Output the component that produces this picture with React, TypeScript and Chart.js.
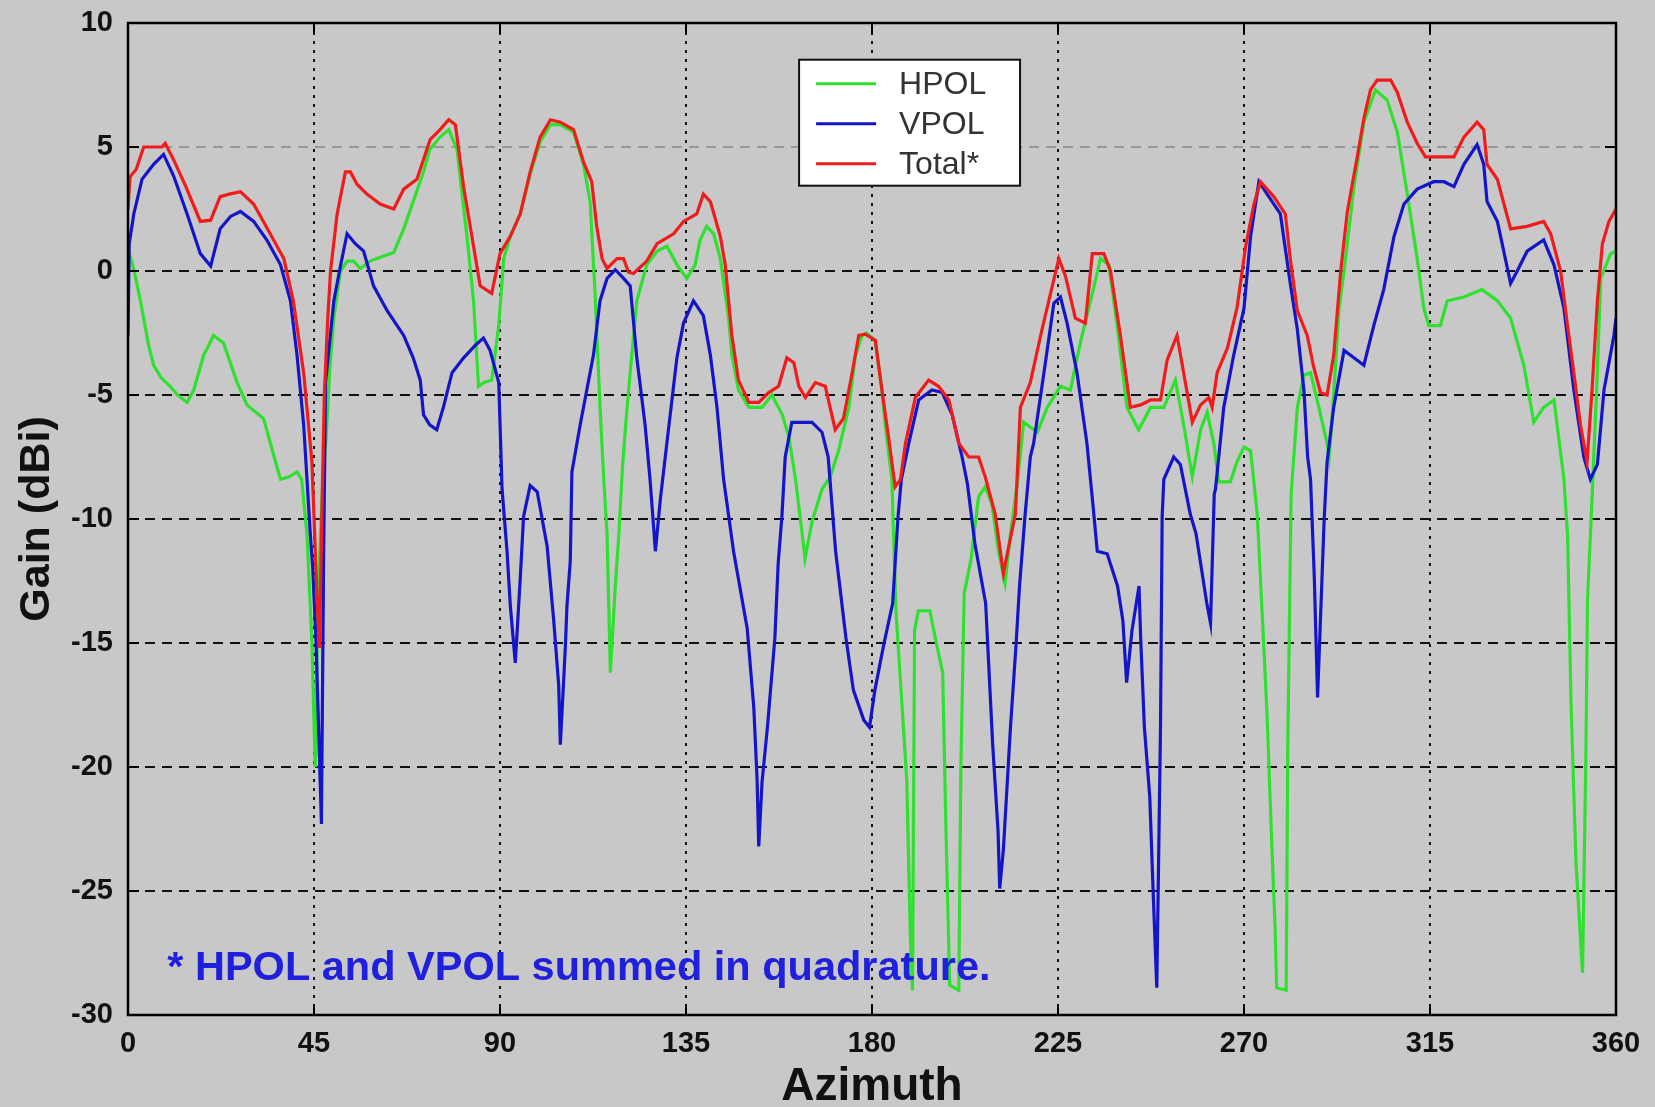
import React, { useEffect, useRef } from "react";
import { Chart, registerables } from "chart.js";

Chart.register(...registerables);

const azimuthTicks = [0, 45, 90, 135, 180, 225, 270, 315, 360];
const gainTicks = [-30, -25, -20, -15, -10, -5, 0, 5, 10];

const seriesLabels = ["HPOL", "VPOL", "Total*"];
const seriesColors = ["#2fe02f", "#1515c8", "#ee1c1c"];
const footnote = "* HPOL and VPOL summed in quadrature.";

const hpolAz = [0,1.5,3,5,6.2,8,10.2,12,14.3,15.9,18.3,20.7,23.1,26.4,28.8,32.8,35.2,36.9,39,40.9,42,43.3,44.5,45.3,46,47,48,48.8,49.8,51.4,53,54.6,56.2,58.6,61,64.3,66.7,69,71.5,73,75.5,77.6,79.6,82,83.6,84.8,86,88,89.7,90.9,92.5,94.9,97.3,99.7,102.2,104.6,107.8,110.2,111.8,113,114.2,115.1,115.9,116.7,117.9,118.8,119.6,120.5,121.5,123.1,125.5,128,130.4,132.8,135.2,137.2,138.4,140,141.7,143.3,145.3,146.1,147.7,150.2,153.4,155.8,158.3,159.9,161.5,163.1,163.8,165.5,167.9,169.9,171.9,174.4,176,177.6,178.6,180.8,182.4,183.2,184.8,185.8,187.6,188.4,189.3,189.8,190.3,191.2,194,195.3,197.1,197.9,198.8,201,201.5,202.3,204,204.9,205.8,207.4,209,210.6,212.2,213.5,215.2,216.7,220,222.4,225.6,228,230.4,233.3,235.3,237.3,239.3,241.7,244.5,247.4,250.6,253.4,255.4,257.5,259.5,261.1,262.7,263.9,266.7,268.3,270,271.6,273.2,274.9,275.7,276.6,277.5,277.9,280.2,280.6,281.4,282.9,284.5,286.1,287.7,290.1,290.6,291.5,293,294.2,296.6,299,301.8,304.6,307.1,309.5,311.9,313.5,314.7,317.5,319.2,323.2,327.6,331.3,334.5,337.7,340.1,342.5,345,347.4,348.3,349.1,350.3,351.9,352.7,353.1,354.4,355.5,356.3,358.7,360];
const hpolGain = [0.9,0,-1.2,-3,-3.8,-4.3,-4.65,-5.0,-5.3,-4.8,-3.4,-2.6,-2.9,-4.5,-5.4,-5.95,-7.4,-8.4,-8.3,-8.1,-8.4,-10.6,-15,-20,-13,-9,-6.5,-4,-1.9,0,0.4,0.4,0.1,0.4,0.55,0.75,1.7,2.8,4.0,4.9,5.4,5.7,4.9,1.4,-1.2,-4.65,-4.5,-4.4,-2.2,0.5,1.4,2.3,3.9,5.2,5.9,5.9,5.6,4.3,2.8,-0.9,-5.5,-8.4,-10.6,-16.2,-12.7,-10.5,-8.0,-6.0,-4.1,-1.2,0.25,0.8,1.0,0.25,-0.3,0.25,1.25,1.8,1.5,0.5,-1.9,-3.4,-4.8,-5.5,-5.5,-5.0,-5.8,-6.7,-8.4,-10.6,-11.6,-10.1,-8.8,-8.3,-7.25,-5.5,-3.4,-2.6,-2.5,-2.8,-4.8,-6.2,-8.4,-13.7,-18.4,-20.5,-26.9,-29,-14.5,-13.7,-13.7,-14.8,-16.2,-22.6,-28.8,-29,-20,-13,-11.6,-10.3,-9.1,-8.7,-9.4,-11.3,-12.6,-10.6,-8.5,-6.1,-6.5,-5.5,-4.65,-4.8,-2.9,-0.9,0.5,0.25,-2.2,-5.5,-6.4,-5.5,-5.5,-4.4,-6.2,-8.3,-6.4,-5.7,-6.95,-8.5,-8.5,-7.7,-7.1,-7.25,-9.8,-15.5,-18.4,-22.6,-26.4,-28.9,-29,-19,-9,-5.5,-4.2,-4.1,-5.2,-6.95,-7.5,-5.5,-1.5,0,3.4,6.0,7.3,6.9,5.6,3.1,0.5,-1.5,-2.2,-2.2,-1.2,-1.05,-0.75,-1.2,-1.9,-3.8,-6.1,-5.5,-5.2,-8.4,-10.7,-17.3,-23.8,-28.3,-19.7,-13.3,-8.4,-4,-0.3,0.7,0.8];

const vpolAz = [0,0.3,1.4,3.4,6.2,8.6,11,14.3,17.5,20,22.3,24.8,27.2,30.4,33.6,36.9,39.3,40.9,42.5,44.1,44.7,45.5,46.8,47.3,47.8,49.8,51.4,53,55,57,59.4,62.7,66.7,69,70.7,71.5,73,74.7,76.3,78.4,81.2,84,86,87.6,89.7,90.5,91.7,92.5,93.7,94.9,95.7,97.3,99,101.4,103,104.2,104.6,105.8,106.2,107,107.4,109.4,111,112.6,114.2,115.9,117.9,119.9,121.5,123.1,125.1,126.3,127.6,128.8,130.4,132.8,134.4,136.8,139.2,140.9,142.5,144.1,146.5,149.8,151.4,152.2,152.6,153.4,154.7,156.5,157.3,158.2,159,160.6,165.5,167.9,169.4,171.2,173.7,175.5,178,179.4,180.7,182.8,185,186.3,187.1,188.9,191.3,194.5,197,199.4,201.8,203.1,204.9,207.5,209.2,210.5,210.9,211.8,213.5,214.8,215.7,217,218.3,219.1,221.6,224,225.6,227.2,229.6,232,233.5,234.5,236.9,239.4,240.7,241.6,242.9,244.6,245,245.9,247.2,248.1,248.9,249.8,250.2,250.6,253,254.6,257,258.4,261,261.9,262.8,263.1,265.1,267.5,270,271.6,273.6,276,278.8,281.2,282.9,284.5,285.4,286.1,287,287.8,289.4,290.1,291.7,294.2,296.6,299,301.4,303.8,306.3,308.7,311.9,315.9,318.4,320.8,323.2,326.4,328,328.8,331.3,334.5,336.1,338.5,342.5,345,347.4,349.8,352.2,353.8,355.5,357.1,359.5,360];
const vpolGain = [-2.6,1.1,2.3,3.7,4.3,4.7,3.85,2.3,0.7,0.2,1.7,2.2,2.4,2.0,1.25,0.25,-1.2,-3.4,-6.2,-10.6,-12,-15,-22.3,-12,-4.5,-1.2,0.2,1.5,1.1,0.8,-0.6,-1.6,-2.6,-3.5,-4.4,-5.8,-6.2,-6.4,-5.5,-4.1,-3.5,-3.0,-2.7,-3.2,-4.5,-8.8,-11.3,-13.5,-15.8,-12.4,-9.9,-8.65,-8.9,-11.1,-14.1,-16.7,-19.1,-15.2,-13.5,-11.7,-8.1,-6.2,-4.8,-3.4,-1.2,-0.3,0.05,-0.3,-0.6,-3.5,-6.2,-8.4,-11.3,-9.2,-6.9,-3.5,-2.1,-1.2,-1.8,-3.4,-5.5,-8.4,-11.3,-14.4,-17.6,-20.5,-23.2,-20.6,-18.4,-14.8,-11.8,-9.9,-7.5,-6.1,-6.1,-6.5,-7.5,-11.3,-14.8,-16.9,-18.1,-18.4,-16.9,-15.1,-13.4,-9.9,-8.4,-6.95,-5.2,-4.8,-4.9,-5.8,-7.5,-8.6,-11,-13.4,-19.1,-22.6,-24.9,-23.3,-18.4,-15.2,-12.7,-9.9,-7.5,-6.95,-4.1,-1.3,-1.05,-2.1,-4.1,-6.95,-9.5,-11.3,-11.4,-12.7,-14.1,-16.6,-14.5,-12.7,-14.8,-18.4,-21.2,-25.4,-28.9,-18.4,-9.9,-8.4,-7.5,-7.8,-9.8,-10.6,-13.4,-14.2,-9,-8.8,-5.5,-3.4,-1.5,1.4,3.6,3.0,2.3,-0.5,-2.35,-4.8,-7.5,-8.4,-12.3,-17.2,-10,-7.7,-5.5,-3.2,-3.5,-3.8,-2.2,-0.75,1.4,2.7,3.3,3.6,3.6,3.4,4.3,5.1,4.3,2.8,2.0,-0.5,0,0.8,1.25,0.25,-1.5,-4.8,-7.5,-8.4,-7.8,-4.8,-2.6,-1.9];

const totalAz = [0,0.5,2,3.8,6,8.2,9,11,14,17.5,20,22.3,24.5,27.2,30.4,34.4,37.7,40,42.5,44.5,45.7,46.3,47,47.5,48.3,49,50.6,52.6,53.8,55.4,57.8,61,64.3,66.7,69.9,72.3,73.1,75.5,77.6,79.2,81.2,83.2,85.2,88,90,92.5,94.9,97.3,99.7,102.2,104.6,107.8,110.2,112.2,113.4,114.7,115.9,118.3,119.9,121.1,122.3,125.5,128,132,134.4,137.6,139.2,140.9,143.3,144.5,145.3,146.1,147.7,150.2,152.6,155,157.4,159.4,161.1,162.3,163.9,166.3,168.7,171.1,173.1,175.2,176.8,178.4,180.8,182.4,184,185.6,186.9,188.1,190.5,193.7,196.1,198.6,201,203.4,205.8,207.4,209.8,211.8,212.6,214.7,215.9,218.3,220.8,223.2,225.2,226.8,229.2,231.6,233.3,236.1,237.7,240.1,242.5,245,247.4,249.8,251.4,253.8,255.4,257.5,259.5,261.5,262.3,263.5,266,268.3,270.4,272.4,274,277.2,280,281.2,282.9,285.3,286.9,288.5,290.1,291.7,293.4,295,297.4,299,300.6,302.2,305.5,307.1,309.5,311.9,313.9,316.7,320.8,323.2,326.4,328,328.8,331.3,334.5,338.5,342.5,344.2,346.6,348.2,349.8,351.4,353,354.2,355.5,356.7,358.3,360];
const totalGain = [2.5,3.8,4.1,5.0,5.0,5.0,5.15,4.5,3.4,2.0,2.05,3.0,3.1,3.2,2.7,1.5,0.5,-1.2,-4.1,-7.7,-13,-15.2,-9,-5,-2,0,2.3,4.0,4.0,3.5,3.1,2.7,2.5,3.3,3.7,4.9,5.3,5.7,6.1,5.9,3.4,1.4,-0.6,-0.9,0.7,1.4,2.3,4.0,5.4,6.1,6.0,5.7,4.4,3.6,1.8,0.5,0.1,0.5,0.5,-0.05,-0.1,0.4,1.1,1.5,2.0,2.3,3.1,2.8,1.4,0.25,-1.2,-2.6,-4.4,-5.3,-5.3,-4.9,-4.65,-3.5,-3.7,-4.65,-5.1,-4.5,-4.65,-6.4,-5.95,-4.1,-2.6,-2.55,-2.8,-4.8,-6.7,-8.7,-8.4,-6.95,-5.1,-4.4,-4.65,-5.2,-6.95,-7.5,-7.5,-8.3,-9.8,-12.2,-11.5,-9.8,-5.5,-4.5,-2.6,-0.9,0.5,-0.2,-1.9,-2.1,0.7,0.7,0,-2.6,-5.5,-5.4,-5.2,-5.2,-3.6,-2.6,-4.1,-6.1,-5.4,-5.1,-5.5,-4.1,-3.1,-1.5,1.0,2.7,3.6,3.0,2.3,0.5,-1.6,-2.6,-3.9,-4.9,-5.0,-3.4,0,2.4,4.6,6.15,7.3,7.7,7.7,7.2,6.0,5.15,4.6,4.6,4.6,5.4,6.0,5.7,4.3,3.7,1.7,1.8,2.0,1.5,0,-2.1,-4.1,-6.2,-7.7,-4.8,-1.2,1.1,2.0,2.5];

const FONT = '"Liberation Sans", Arial, Helvetica, sans-serif';

const toPoints = (az: number[], g: number[]) => az.map((a, i) => ({ x: a, y: g[i] }));

const decorPlugin = {
  id: "decor",
  afterDatasetsDraw(chart: any) {
    const { ctx, chartArea: a, scales } = chart;
    const w = a.right - a.left;
    const h = a.bottom - a.top;
    ctx.save();
    ctx.setLineDash([]);
    ctx.strokeStyle = "#000";
    ctx.lineWidth = 2;
    const tl = 11;
    ctx.beginPath();
    for (const v of azimuthTicks) {
      const px = scales.x.getPixelForValue(v);
      ctx.moveTo(px, a.bottom);
      ctx.lineTo(px, a.bottom - tl);
      ctx.moveTo(px, a.top);
      ctx.lineTo(px, a.top + tl);
    }
    for (const v of gainTicks) {
      const py = scales.y.getPixelForValue(v);
      ctx.moveTo(a.left, py);
      ctx.lineTo(a.left + tl, py);
      ctx.moveTo(a.right, py);
      ctx.lineTo(a.right - tl, py);
    }
    ctx.stroke();
    ctx.lineWidth = 2.5;
    ctx.strokeRect(a.left, a.top, w, h);

    // legend box
    const lx = a.left + 0.451 * w;
    const lr = a.left + 0.5995 * w;
    const ly = a.top + 0.037 * h;
    const lb = a.top + 0.164 * h;
    ctx.fillStyle = "#fff";
    ctx.fillRect(lx, ly, lr - lx, lb - ly);
    ctx.lineWidth = 2;
    ctx.strokeStyle = "#111";
    ctx.strokeRect(lx, ly, lr - lx, lb - ly);
    ctx.font = `32px ${FONT}`;
    ctx.textBaseline = "middle";
    ctx.textAlign = "left";
    const rowH = (lb - ly) / 3.15;
    chart.data.datasets.forEach((ds: any, i: number) => {
      const y = ly + rowH * (0.6 + i);
      ctx.strokeStyle = ds.borderColor;
      ctx.lineWidth = 3;
      ctx.beginPath();
      ctx.moveTo(lx + 17, y);
      ctx.lineTo(lx + 77, y);
      ctx.stroke();
      ctx.fillStyle = "#333";
      ctx.fillText(ds.label, lx + 100, y + 1);
    });

    // footnote
    ctx.font = `bold 41.5px ${FONT}`;
    ctx.fillStyle = "#2020dc";
    ctx.textBaseline = "alphabetic";
    ctx.fillText(footnote, a.left + 0.0264 * w, a.top + 0.9645 * h);
    ctx.restore();
  },
};

export default function App() {
  const ref = useRef<HTMLCanvasElement | null>(null);

  useEffect(() => {
    if (!ref.current) return;
    const datasets = [
      { label: seriesLabels[0], data: toPoints(hpolAz, hpolGain), borderColor: seriesColors[0], order: 2 },
      { label: seriesLabels[1], data: toPoints(vpolAz, vpolGain), borderColor: seriesColors[1], order: 1 },
      { label: seriesLabels[2], data: toPoints(totalAz, totalGain), borderColor: seriesColors[2], order: 0 },
    ].map((d) => ({ ...d, borderWidth: 3.2, pointRadius: 0, tension: 0, fill: false }));

    const chart = new Chart(ref.current, {
      type: "line",
      data: { datasets },
      plugins: [decorPlugin],
      options: {
        animation: false,
        responsive: false,
        devicePixelRatio: 1,
        layout: { padding: { left: 0, right: 39, top: 23, bottom: 0 } },
        plugins: { legend: { display: false }, tooltip: { enabled: false } },
        scales: {
          x: {
            type: "linear",
            min: 0,
            max: 360,
            afterBuildTicks: (s: any) => {
              s.ticks = azimuthTicks.map((v) => ({ value: v }));
            },
            afterFit: (s: any) => {
              s.height = 92;
              s.paddingLeft = 0;
              s.paddingRight = 0;
            },
            grid: { color: "#111", lineWidth: 2, drawTicks: false },
            border: { display: false, dash: [3, 6] },
            ticks: {
              color: "#111",
              padding: 12,
              maxRotation: 0,
              font: { family: FONT, size: 29, weight: "bold" },
            },
            title: {
              display: true,
              text: "Azimuth",
              color: "#111",
              padding: { top: 0, bottom: 0 },
              font: { family: FONT, size: 46, weight: "bold", lineHeight: 0.85 },
            },
          },
          y: {
            type: "linear",
            min: -30,
            max: 10,
            afterBuildTicks: (s: any) => {
              s.ticks = gainTicks.map((v) => ({ value: v }));
            },
            afterFit: (s: any) => {
              s.width = 128;
              s.paddingTop = 0;
              s.paddingBottom = 0;
            },
            grid: {
              color: (c: any) => (c.tick && c.tick.value === 5 ? "#9a9a9a" : "#111"),
              lineWidth: 2,
              drawTicks: false,
            },
            border: { display: false, dash: [10, 7] },
            ticks: {
              color: "#111",
              padding: 15,
              font: { family: FONT, size: 29, weight: "bold" },
            },
            title: {
              display: true,
              text: "Gain (dBi)",
              color: "#111",
              padding: { top: 16, bottom: 0 },
              font: { family: FONT, size: 43, weight: "bold", lineHeight: 1.0 },
            },
          },
        },
      },
    } as any);
    return () => chart.destroy();
  }, []);

  return (
    <div
      style={{
        position: "absolute",
        left: 0,
        top: 0,
        width: 1655,
        height: 1107,
        background: "#c8c8c8",
        overflow: "hidden",
      }}
    >
      <canvas ref={ref} width={1655} height={1107} style={{ display: "block" }} />
    </div>
  );
}
